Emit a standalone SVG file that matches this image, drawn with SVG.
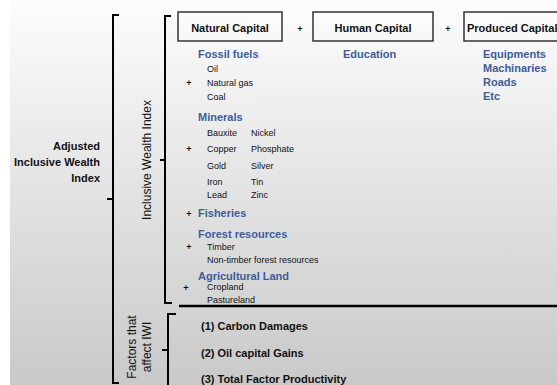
<svg xmlns="http://www.w3.org/2000/svg" width="557" height="385" viewBox="0 0 557 385">
<defs>
<linearGradient id="bg" x1="0" y1="0" x2="0" y2="1">
<stop offset="0" stop-color="#fdfdfd"/>
<stop offset="1" stop-color="#c9c9c9"/>
</linearGradient>
<style>
text{font-family:"Liberation Sans",Arial,sans-serif}
.b{font-weight:bold;font-size:11px;fill:#111}
.h{font-weight:bold;font-size:11px;fill:#3b5d9c}
.s{font-size:9px;fill:#111}
.p{font-size:9px;fill:#111;font-weight:bold}
.v{font-size:12px;fill:#111}
.box{fill:none;stroke:#333;stroke-width:1.5}
.br{fill:none;stroke:#000;stroke-width:2}
</style>
</defs>
<rect x="0" y="0" width="557" height="385" fill="#fff"/>
<rect x="10" y="0" width="547" height="385" fill="url(#bg)"/>

<g id="connectors">
<path class="br" d="M119,15 H113 V383 H119 M113,199 H107"/>
<path class="br" d="M171,16 H165 V303 H172 M165,160 H160"/>
<path class="br" d="M176,314 H168 V385 M168,350 H162"/>
<path d="M179,306 H557" stroke="#000" stroke-width="2.5"/>
</g>

<g id="awi">
<text class="b" text-anchor="end" x="100" y="150">Adjusted</text>
<text class="b" text-anchor="end" x="100" y="166">Inclusive Wealth</text>
<text class="b" text-anchor="end" x="100" y="182">Index</text>
</g>

<g id="iwi-label">
<text class="v" text-anchor="middle" transform="translate(151,160) rotate(-90)">Inclusive Wealth Index</text>
</g>

<g id="factors-label">
<text class="v" text-anchor="middle" transform="translate(136,347) rotate(-90)">Factors that</text>
<text class="v" text-anchor="middle" transform="translate(151,347) rotate(-90)">affect IWI</text>
</g>

<g id="natural-capital">
<rect class="box" x="178" y="12" width="104" height="29"/>
<text class="b" text-anchor="middle" x="230" y="32">Natural Capital</text>
</g>
<text class="p" x="300" y="32" text-anchor="middle">+</text>
<g id="human-capital">
<rect class="box" x="313" y="12" width="120" height="29"/>
<text class="b" text-anchor="middle" x="373" y="32">Human Capital</text>
</g>
<text class="p" x="448" y="32" text-anchor="middle">+</text>
<g id="produced-capital">
<rect class="box" x="464" y="12" width="100" height="29"/>
<text class="b" x="467" y="32">Produced Capital</text>
</g>

<g id="fossil-fuels">
<text class="h" x="198" y="58">Fossil fuels</text>
<text class="s" x="207" y="72">Oil</text>
<text class="p" x="189" y="86" text-anchor="middle">+</text>
<text class="s" x="207" y="86">Natural gas</text>
<text class="s" x="207" y="100">Coal</text>
</g>

<g id="minerals">
<text class="h" x="198" y="121">Minerals</text>
<text class="s" x="207" y="136">Bauxite</text><text class="s" x="251" y="136">Nickel</text>
<text class="p" x="189" y="152" text-anchor="middle">+</text>
<text class="s" x="207" y="152">Copper</text><text class="s" x="251" y="152">Phosphate</text>
<text class="s" x="207" y="169">Gold</text><text class="s" x="251" y="169">Silver</text>
<text class="s" x="207" y="185">Iron</text><text class="s" x="251" y="185">Tin</text>
<text class="s" x="207" y="198">Lead</text><text class="s" x="251" y="198">Zinc</text>
</g>

<g id="fisheries">
<text class="p" x="189" y="217" text-anchor="middle">+</text>
<text class="h" x="198" y="217">Fisheries</text>
</g>

<g id="forest">
<text class="h" x="198" y="238">Forest resources</text>
<text class="p" x="189" y="250" text-anchor="middle">+</text>
<text class="s" x="207" y="250">Timber</text>
<text class="s" x="207" y="263">Non-timber forest resources</text>
</g>

<g id="agri">
<text class="h" x="198" y="280">Agricultural Land</text>
<text class="p" x="186" y="291" text-anchor="middle">+</text>
<text class="s" x="207" y="290">Cropland</text>
<text class="s" x="207" y="303">Pastureland</text>
</g>

<g id="education">
<text class="h" x="343" y="58">Education</text>
</g>

<g id="produced-items">
<text class="h" x="483" y="58">Equipments</text>
<text class="h" x="483" y="72">Machinaries</text>
<text class="h" x="483" y="86">Roads</text>
<text class="h" x="483" y="100">Etc</text>
</g>

<g id="factor-items">
<text class="b" x="201" y="330">(1) Carbon Damages</text>
<text class="b" x="201" y="357">(2) Oil capital Gains</text>
<text class="b" x="201" y="383">(3) Total Factor Productivity</text>
</g>
</svg>
